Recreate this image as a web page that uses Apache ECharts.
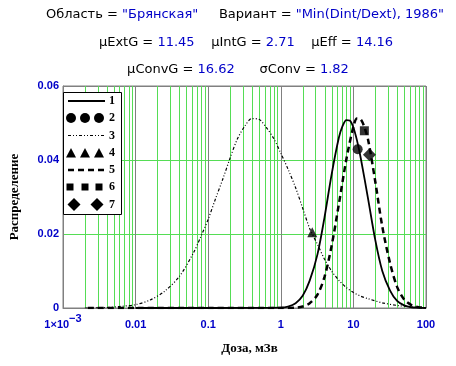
<!DOCTYPE html>
<html><head><meta charset="utf-8">
<script src="https://cdn.jsdelivr.net/npm/echarts@6/dist/echarts.min.js"></script>
<style>html,body{margin:0;padding:0;background:#fff}#c{width:456px;height:366px}</style>
</head><body><div id="c"></div>
<script>
// ---- data ----
const xTickLabels = ['1×10^-3', '0.01', '0.1', '1', '10', '100'];
const yTickLabels = ['0', '0.02', '0.04', '0.06'];

// curve 3 (dash-dot-dot)
const dose3 = [0.002, 0.004, 0.006, 0.01, 0.016, 0.025, 0.04, 0.063, 0.08, 0.1, 0.126, 0.16, 0.2, 0.25, 0.32, 0.4, 0.5, 0.63, 0.8, 1, 1.26, 1.6, 2, 2.5, 3.2, 4, 5, 6.3, 8, 10, 12.6, 16, 25, 40, 63, 100];
const dist3 = [0.0000, 0.0001, 0.0004, 0.0009, 0.0022, 0.0045, 0.0085, 0.0150, 0.0195, 0.0240, 0.0295, 0.0350, 0.0405, 0.0455, 0.0492, 0.0512, 0.0510, 0.0488, 0.0458, 0.0418, 0.0375, 0.0325, 0.0270, 0.0215, 0.0172, 0.0132, 0.0100, 0.0075, 0.0055, 0.0042, 0.0032, 0.0025, 0.0014, 0.0007, 0.0003, 0.0001];

// curve 1 (solid)
const dose1 = [0.01, 0.1, 1, 1.26, 1.6, 2, 2.5, 3.2, 4, 5, 6.3, 7.1, 8, 8.9, 10, 11.2, 12.6, 16, 20, 25, 32, 40, 50, 63, 79, 100];
const dist1 = [0, 0, 0.0001, 0.0004, 0.0013, 0.0033, 0.0074, 0.0145, 0.0245, 0.0360, 0.0460, 0.0492, 0.0508, 0.0507, 0.0488, 0.0453, 0.0406, 0.0293, 0.0184, 0.0100, 0.0047, 0.0019, 0.0007, 0.0002, 0.0001, 0];

// curve 5 (dashed)
const dose5 = [0.0022, 0.01, 0.1, 1, 1.6, 2, 2.5, 3.2, 4, 5, 6.3, 8, 10, 11.2, 12.6, 14.1, 16, 20, 25, 32, 40, 50, 63, 79, 100];
const dist5 = [0, 0, 0, 0, 0.0001, 0.0004, 0.0013, 0.0036, 0.0084, 0.0167, 0.0280, 0.0402, 0.0490, 0.0512, 0.0510, 0.0490, 0.0453, 0.0342, 0.0220, 0.0121, 0.0057, 0.0023, 0.0008, 0.0002, 0.0001];

// point markers
const pts2 = [[11.45, 0.0429]];   // circle  (μExtG)
const pts4 = [[2.71, 0.0205]];    // triangle (μIntG)
const pts6 = [[14.16, 0.0479]];   // square (μEff)
const pts7 = [[16.62, 0.0414]];   // diamond (μConvG)

const minorTicks = [0.002,0.003,0.004,0.005,0.006,0.007,0.008,0.009,
  0.02,0.03,0.04,0.05,0.06,0.07,0.08,0.09,
  0.2,0.3,0.4,0.5,0.6,0.7,0.8,0.9,
  2,3,4,5,6,7,8,9,
  20,30,40,50,60,70,80,90];

// ---- chart ----
const zip = (xs, ys) => xs.map((x, i) => [x, ys[i]]);
const BLUE = '#0000c8';
const GREEN = '#55dd55';
const GRAY = '#808080';
const chart = echarts.init(document.getElementById('c'), null, {renderer: 'canvas'});

const legendRows = [101, 118, 135.5, 153, 170, 187, 204.5];
const lg = [];
lg.push({type: 'rect', shape: {x: 63.5, y: 92.5, width: 58, height: 122}, style: {fill: '#fff', stroke: '#000', lineWidth: 1}, z: 100});
lg.push({type: 'line', shape: {x1: 68, y1: legendRows[0], x2: 105, y2: legendRows[0]}, style: {stroke: '#000', lineWidth: 2}, z: 101});
[71, 85, 99].forEach(cx => lg.push({type: 'circle', shape: {cx: cx, cy: legendRows[1], r: 5}, style: {fill: '#000'}, z: 101}));
lg.push({type: 'line', shape: {x1: 68, y1: legendRows[2], x2: 105, y2: legendRows[2]}, style: {stroke: '#000', lineWidth: 1.2, lineDash: [3, 2, 1, 2, 1, 2]}, z: 101});
[71, 85, 99].forEach(cx => lg.push({type: 'polygon', shape: {points: [[cx - 5, legendRows[3] + 4.5], [cx + 5, legendRows[3] + 4.5], [cx, legendRows[3] - 5]]}, style: {fill: '#000'}, z: 101}));
lg.push({type: 'line', shape: {x1: 68, y1: legendRows[4], x2: 105, y2: legendRows[4]}, style: {stroke: '#000', lineWidth: 2.5, lineDash: [6, 4]}, z: 101});
[70, 85, 99].forEach(cx => lg.push({type: 'rect', shape: {x: cx - 3.5, y: legendRows[5] - 3.5, width: 7, height: 7}, style: {fill: '#000'}, z: 101}));
[74, 97].forEach(cx => lg.push({type: 'polygon', shape: {points: [[cx - 6.5, legendRows[6]], [cx, legendRows[6] - 6.5], [cx + 6.5, legendRows[6]], [cx, legendRows[6] + 6.5]]}, style: {fill: '#000'}, z: 101}));
['1','2','3','4','5','6','7'].forEach((t, i) => lg.push({type: 'text', x: 112, y: legendRows[i], style: {text: t, fill: '#000', font: 'bold 12px "Liberation Serif"', align: 'center', verticalAlign: 'middle'}, z: 101}));

const rich = {
  k: {fill: '#000', fontFamily: 'DejaVu Sans', fontSize: 13},
  v: {fill: BLUE, fontFamily: 'DejaVu Sans', fontSize: 13}
};
const titles = [
  {x: 245, y: 15, text: '{k|Область = }{v|"Брянская"}{k|     Вариант = }{v|"Min(Dint/Dext), 1986"}'},
  {x: 246, y: 43, text: '{k|μExtG = }{v|11.45}{k|    μIntG = }{v|2.71}{k|    μEff = }{v|14.16}'},
  {x: 238, y: 70, text: '{k|μConvG = }{v|16.62}{k|      σConv = }{v|1.82}'}
];
titles.forEach(t => lg.push({type: 'text', x: t.x, y: t.y, style: {text: t.text, rich: rich, align: 'center', verticalAlign: 'middle', font: '13px "DejaVu Sans"'}, z: 101}));

const labelFont = {color: BLUE, fontFamily: 'Liberation Sans', fontWeight: 'bold', fontSize: 11};

const option = {
  animation: false,
  backgroundColor: '#fff',
  grid: {left: 57, right: 30, top: 86, bottom: 58, show: true, borderColor: GRAY, borderWidth: 1, containLabel: false},
  xAxis: {
    type: 'log', logBase: 10, min: 0.001, max: 100,
    name: 'Доза, мЗв', nameLocation: 'middle', nameGap: 34,
    nameTextStyle: {fontFamily: 'Liberation Serif', fontWeight: 'bold', fontSize: 13, color: '#000', padding: [0, 0, 0, 10]},
    axisLine: {show: true, lineStyle: {color: GRAY, width: 1}},
    axisTick: {show: false},
    splitLine: {show: true, lineStyle: {color: GRAY, width: 1}},
    axisLabel: {
      margin: 5,
      color: BLUE, fontFamily: 'Liberation Sans', fontWeight: 'bold', fontSize: 11,
      formatter: function (v) {
        const i = Math.round(Math.log10(v)) + 3;
        const s = xTickLabels[i];
        if (s && s.indexOf('^') >= 0) {
          const p = s.split('^');
          return '{a|' + p[0] + '}{s|' + p[1].replace('-', '−') + '}';
        }
        return '{b|' + s + '}';
      },
      rich: {
        a: Object.assign({verticalAlign: 'bottom'}, labelFont),
        s: Object.assign({verticalAlign: 'top', padding: [0, 0, 6, 0]}, labelFont),
        b: Object.assign({padding: [6, 0, 0, 0]}, labelFont)
      }
    }
  },
  yAxis: {
    type: 'value', min: 0, max: 0.06, interval: 0.02,
    name: 'Распределение', nameLocation: 'middle', nameGap: 42, nameRotate: 90,
    nameTextStyle: {fontFamily: 'Liberation Serif', fontWeight: 'bold', fontSize: 13, color: '#000'},
    axisLine: {show: true, lineStyle: {color: GRAY, width: 1}},
    axisTick: {show: false},
    splitLine: {show: true, lineStyle: {color: [GRAY, GREEN, GREEN, GRAY], width: 1}},
    axisLabel: {
      margin: 4, color: BLUE, fontFamily: 'Liberation Sans', fontWeight: 'bold', fontSize: 11,
      formatter: function (v) { return yTickLabels[Math.round(v / 0.02)]; }
    }
  },
  graphic: lg,
  series: [
    {type: 'custom', z: 1, silent: true, clip: true,
      data: minorTicks.map(v => [v, 0]),
      encode: {x: 0, y: 1},
      renderItem: function (params, api) {
        const v = api.value(0);
        const p0 = api.coord([v, 0]);
        const p1 = api.coord([v, 0.06]);
        const x = Math.round(p0[0]) + 0.5;
        return {type: 'line', shape: {x1: x, y1: p0[1], x2: x, y2: p1[1]}, style: {stroke: GREEN, lineWidth: 1}};
      }},
    {name: '3', type: 'line', data: zip(dose3, dist3), symbol: 'none', smooth: 0.3, z: 3,
      lineStyle: {color: '#000', width: 1.2, type: [3, 2, 1, 2, 1, 2]}},
    {name: '1', type: 'line', data: zip(dose1, dist1), symbol: 'none', smooth: 0.3, z: 3,
      lineStyle: {color: '#000', width: 1.8}},
    {name: '5', type: 'line', data: zip(dose5, dist5), symbol: 'none', smooth: 0.3, z: 3,
      lineStyle: {color: '#000', width: 2.5, type: [6, 4]}},
    {name: '2', type: 'scatter', data: pts2, symbol: 'circle', symbolSize: 10, itemStyle: {color: '#000'}, z: 4},
    {name: '4', type: 'scatter', data: pts4, symbol: 'triangle', symbolSize: 10, itemStyle: {color: '#000'}, z: 4},
    {name: '6', type: 'scatter', data: pts6, symbol: 'rect', symbolSize: 9, itemStyle: {color: '#000'}, z: 4},
    {name: '7', type: 'scatter', data: pts7, symbol: 'diamond', symbolSize: 13, itemStyle: {color: '#000'}, z: 4}
  ]
};
chart.setOption(option);
</script>
</body></html>
